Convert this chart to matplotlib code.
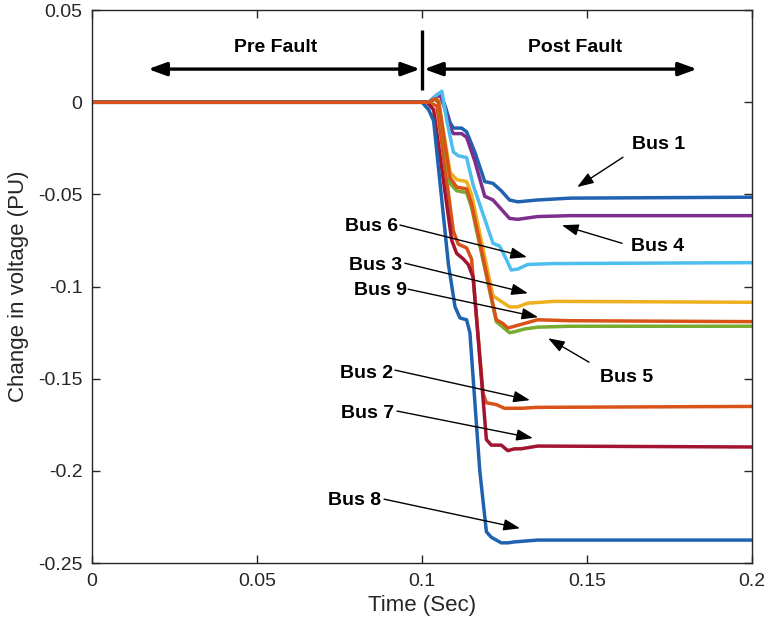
import numpy as np
import matplotlib
matplotlib.use("Agg")
from matplotlib import pyplot as plt

plt.rcParams['font.family'] = ['Liberation Sans', 'DejaVu Sans']

# tiempos y valores (cambio de voltaje en PU)
bus1_t = [0, 0.100, 0.102, 0.1045, 0.1055, 0.107, 0.1085, 0.1095, 0.112, 0.1135, 0.116, 0.119, 0.1215, 0.124, 0.1265, 0.129, 0.135, 0.145, 0.2]
bus1_v = [0, 0, 0, 0.004, 0.005, -0.002, -0.011, -0.014, -0.014, -0.016, -0.027, -0.043, -0.044, -0.048, -0.053, -0.054, -0.053, -0.052, -0.0515]

bus2_t = [0, 0.100, 0.102, 0.1045, 0.1095, 0.111, 0.1135, 0.115, 0.1185, 0.1195, 0.1225, 0.125, 0.130, 0.135, 0.2]
bus2_v = [0, 0, 0, -0.002, -0.070, -0.077, -0.079, -0.085, -0.158, -0.163, -0.164, -0.166, -0.166, -0.1655, -0.165]

bus3_t = [0, 0.100, 0.102, 0.104, 0.105, 0.1085, 0.1105, 0.1135, 0.115, 0.1215, 0.124, 0.1265, 0.129, 0.132, 0.140, 0.2]
bus3_v = [0, 0, 0, 0.002, 0.001, -0.038, -0.042, -0.043, -0.050, -0.105, -0.108, -0.111, -0.111, -0.109, -0.108, -0.1085]

bus4_t = [0, 0.100, 0.102, 0.1045, 0.1055, 0.107, 0.1085, 0.1095, 0.112, 0.1135, 0.116, 0.119, 0.1215, 0.124, 0.1265, 0.129, 0.135, 0.145, 0.2]
bus4_v = [0, 0, 0, 0.003, 0.004, -0.004, -0.014, -0.017, -0.017, -0.019, -0.032, -0.051, -0.053, -0.058, -0.063, -0.0635, -0.062, -0.0615, -0.0615]

bus5_t = [0, 0.100, 0.102, 0.104, 0.105, 0.1085, 0.1105, 0.1135, 0.115, 0.1225, 0.1245, 0.1265, 0.128, 0.131, 0.135, 0.145, 0.2]
bus5_v = [0, 0, 0, 0.0015, 0, -0.044, -0.048, -0.049, -0.057, -0.119, -0.122, -0.125, -0.1245, -0.123, -0.122, -0.1215, -0.1215]

bus6_t = [0, 0.100, 0.102, 0.1045, 0.106, 0.1075, 0.1095, 0.111, 0.1135, 0.1155, 0.1215, 0.1235, 0.1255, 0.127, 0.129, 0.132, 0.140, 0.2]
bus6_v = [0, 0, 0, 0.004, 0.006, -0.010, -0.027, -0.029, -0.030, -0.045, -0.0765, -0.078, -0.085, -0.091, -0.0905, -0.088, -0.0875, -0.087]

bus7_t = [0, 0.100, 0.1015, 0.1035, 0.109, 0.1105, 0.1125, 0.114, 0.1155, 0.1195, 0.121, 0.124, 0.126, 0.128, 0.130, 0.135, 0.2]
bus7_v = [0, 0, 0, -0.004, -0.075, -0.082, -0.085, -0.088, -0.095, -0.183, -0.186, -0.186, -0.189, -0.188, -0.188, -0.1865, -0.187]

bus8_t = [0, 0.100, 0.101, 0.102, 0.1035, 0.108, 0.110, 0.1115, 0.1135, 0.1145, 0.1175, 0.1195, 0.121, 0.124, 0.126, 0.128, 0.135, 0.145, 0.2]
bus8_v = [0, 0, -0.002, -0.004, -0.010, -0.088, -0.111, -0.117, -0.118, -0.125, -0.200, -0.233, -0.236, -0.239, -0.239, -0.2385, -0.2375, -0.2375, -0.2375]

bus9_t = [0, 0.100, 0.102, 0.104, 0.105, 0.1085, 0.1105, 0.1135, 0.115, 0.1225, 0.1245, 0.126, 0.128, 0.131, 0.135, 0.145, 0.2]
bus9_v = [0, 0, 0, 0.002, 0, -0.041, -0.046, -0.047, -0.055, -0.118, -0.120, -0.1225, -0.1215, -0.120, -0.118, -0.1185, -0.119]

series_t = [bus1_t, bus2_t, bus3_t, bus4_t, bus5_t, bus6_t, bus7_t, bus8_t, bus9_t]
series_v = [bus1_v, bus2_v, bus3_v, bus4_v, bus5_v, bus6_v, bus7_v, bus8_v, bus9_v]

# colores por defecto de MATLAB
colores = ['#1F63B0', '#D95319', '#EDB120', '#7E2F8E', '#77AC30',
           '#4DBEEE', '#A2142F', '#1F63B0', '#D95319']

xticks = [0, 0.05, 0.1, 0.15, 0.2]
xtick_labels = ['0', '0.05', '0.1', '0.15', '0.2']
yticks = [0.05, 0, -0.05, -0.1, -0.15, -0.2, -0.25]
ytick_labels = ['0.05', '0', '-0.05', '-0.1', '-0.15', '-0.2', '-0.25']

# etiquetas: (texto, centro del texto, cola de la flecha, punta de la flecha)
etiquetas = [
    ('Bus 1', (0.1718, -0.0228), (0.1609, -0.0298), (0.1470, -0.0460)),
    ('Bus 4', (0.1715, -0.0781), (0.1606, -0.0765), (0.1424, -0.0667)),
    ('Bus 5', (0.1621, -0.1491), (0.1506, -0.1410), (0.1382, -0.1280)),
    ('Bus 6', (0.0848, -0.0672), (0.0933, -0.0666), (0.1318, -0.0840)),
    ('Bus 3', (0.0858, -0.0884), (0.0948, -0.0873), (0.1321, -0.1036)),
    ('Bus 9', (0.0873, -0.1020), (0.0958, -0.1014), (0.1352, -0.1166)),
    ('Bus 2', (0.0833, -0.1469), (0.0918, -0.1453), (0.1327, -0.1616)),
    ('Bus 7', (0.0836, -0.1686), (0.0924, -0.1675), (0.1336, -0.1822)),
    ('Bus 8', (0.0797, -0.2158), (0.0885, -0.2153), (0.1297, -0.2311)),
]

fig = plt.figure(figsize=(7.67, 6.32), dpi=100)
ax = fig.add_axes([0.12, 0.109, 0.8605, 0.875])

for t, v, c in zip(series_t, series_v, colores):
    ax.plot(t, v, color=c, linewidth=2.5, solid_joinstyle='round')

ax.set_xlim(0, 0.2)
ax.set_ylim(-0.25, 0.05)
ax.set_xticks(xticks)
ax.set_xticklabels(xtick_labels)
ax.set_yticks(yticks)
ax.set_yticklabels(ytick_labels)
ax.tick_params(direction='in', length=6, width=1, top=True, right=True,
               labelsize=14, colors='#262626', pad=7)
for s in ax.spines.values():
    s.set_linewidth(1)
    s.set_color('#262626')
ax.set_xlabel('Time (Sec)', fontsize=16, color='#262626', labelpad=4)
ax.set_ylabel('Change in voltage (PU)', fontsize=16, color='#262626', labelpad=6)

# pre / post falla
flecha_doble = dict(arrowstyle='<|-|>,head_length=1.1,head_width=0.4', color='black',
                    lw=2.4, shrinkA=0, shrinkB=0)
ax.annotate('', xy=(0.017, 0.018), xytext=(0.0994, 0.018), arrowprops=flecha_doble)
ax.annotate('', xy=(0.1006, 0.018), xytext=(0.1833, 0.018), arrowprops=flecha_doble)
ax.vlines(0.1, 0.0065, 0.039, color='black', linewidth=2.4)
ax.text(0.0555, 0.0299, 'Pre Fault', ha='center', va='center', fontsize=14, fontweight='bold')
ax.text(0.1464, 0.0299, 'Post Fault', ha='center', va='center', fontsize=14, fontweight='bold')

flecha = dict(arrowstyle='-|>,head_length=1.0,head_width=0.35', color='black',
              lw=1.0, shrinkA=0, shrinkB=0)
for nombre, pos, cola, punta in etiquetas:
    ax.text(pos[0], pos[1], nombre, ha='center', va='center', fontsize=14, fontweight='bold')
    ax.annotate('', xy=punta, xytext=cola, arrowprops=flecha)

fig.savefig('out.png', dpi=100)
